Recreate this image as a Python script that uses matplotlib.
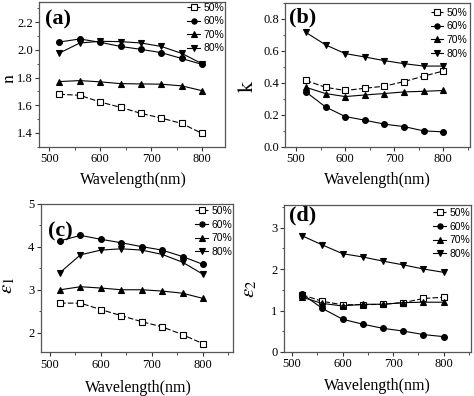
import matplotlib
matplotlib.use("Agg")
import matplotlib.pyplot as plt
from matplotlib.ticker import AutoMinorLocator, MultipleLocator

wavelength = [520, 560, 600, 640, 680, 720, 760, 800]
series_labels = ["50%", "60%", "70%", "80%"]

n_50 = [1.679, 1.672, 1.623, 1.585, 1.541, 1.507, 1.468, 1.396]
n_60 = [2.057, 2.079, 2.055, 2.025, 2.004, 1.980, 1.938, 1.895]
n_70 = [1.771, 1.778, 1.769, 1.756, 1.754, 1.752, 1.740, 1.705]
n_80 = [1.977, 2.050, 2.062, 2.060, 2.050, 2.025, 1.975, 1.900]

k_50 = [0.415, 0.372, 0.352, 0.366, 0.379, 0.408, 0.442, 0.474]
k_60 = [0.343, 0.249, 0.189, 0.166, 0.141, 0.126, 0.099, 0.093]
k_70 = [0.372, 0.333, 0.314, 0.324, 0.333, 0.343, 0.347, 0.352]
k_80 = [0.716, 0.638, 0.583, 0.562, 0.539, 0.520, 0.505, 0.505]

e1_50 = [2.69, 2.69, 2.54, 2.40, 2.26, 2.14, 1.96, 1.75]
e1_60 = [4.135, 4.26, 4.17, 4.09, 4.00, 3.92, 3.77, 3.59]
e1_70 = [3.00, 3.07, 3.04, 3.00, 3.00, 2.97, 2.92, 2.80]
e1_80 = [3.40, 3.81, 3.92, 3.95, 3.92, 3.82, 3.64, 3.36]

e2_50 = [1.38, 1.22, 1.14, 1.14, 1.15, 1.19, 1.29, 1.32]
e2_60 = [1.40, 1.05, 0.79, 0.67, 0.57, 0.505, 0.42, 0.37]
e2_70 = [1.32, 1.17, 1.11, 1.15, 1.15, 1.19, 1.20, 1.20]
e2_80 = [2.80, 2.58, 2.37, 2.29, 2.19, 2.10, 2.00, 1.92]

W, H = 474, 396
fig = plt.figure(figsize=(W / 100, H / 100), dpi=100)
plt.rcParams['mathtext.fontset'] = 'stix'

SERIF = ['Liberation Serif', 'DejaVu Serif']
SANS = ['Liberation Sans', 'DejaVu Sans']

def px_axes(l, r, t, b):
    return fig.add_axes([l / W, (H - b) / H, (r - l) / W, (b - t) / H])

styles = [
    dict(marker='s', mfc='white', ls=(0, (5, 2))),
    dict(marker='o', mfc='black', ls='-'),
    dict(marker='^', mfc='black', ls='-'),
    dict(marker='v', mfc='black', ls='-'),
]

panels = [
    dict(box=(39, 225, 1.5, 146.7), data=[n_50, n_60, n_70, n_80], xlim=(480, 845), ylim=(1.3, 2.35),
         ymaj=0.2, yfmt='%.1f', ylabel=r'$\mathrm{n}$', ylfs=13, ylc=(-0.159, 0.47), tag='(a)', tagpos=(0.03, 0.873),
         xlc=(0.505, -0.23), leg=(1.0, 1.0)),
    dict(box=(285.3, 470.3, 3, 146.7), data=[k_50, k_60, k_70, k_80], xlim=(478, 855), ylim=(0.0, 0.9),
         ymaj=0.2, yfmt='%.1f', ylabel=r'$\mathrm{k}$', ylfs=16, ylc=(-0.20, 0.42), tag='(b)', tagpos=(0.018, 0.9),
         xlc=(0.5, -0.23), leg=(0.99, 0.975)),
    dict(box=(40.7, 233, 203.5, 352.3), data=[e1_50, e1_60, e1_70, e1_80], xlim=(482, 859), ylim=(1.55, 5.0),
         ymaj=1, yfmt='%d', ylabel=r'$\varepsilon_1$', ylfs=15, ylc=(-0.17, 0.45), tag='(c)', tagpos=(0.038, 0.81),
         xlc=(0.506, -0.24), leg=(1.0, 0.99)),
    dict(box=(283.7, 471, 204.7, 352), data=[e2_50, e2_60, e2_70, e2_80], xlim=(483.6, 854), ylim=(0.0, 3.55),
         ymaj=1, yfmt='%d', ylabel=r'$\varepsilon_2$', ylfs=15, ylc=(-0.18, 0.43), tag='(d)', tagpos=(0.027, 0.925),
         xlc=(0.498, -0.233), leg=(1.0, 0.985)),
]

for p in panels:
    ax = px_axes(*p['box'])
    for vals, lab, st in zip(p['data'], series_labels, styles):
        ax.plot(wavelength, vals, color='black', lw=0.8, ls=st['ls'], marker=st['marker'],
                ms=4.2, mfc=st['mfc'], mec='black', mew=0.8, label=lab)
    ax.set_xlim(*p['xlim'])
    ax.set_ylim(*p['ylim'])
    ax.xaxis.set_major_locator(MultipleLocator(100))
    ax.xaxis.set_minor_locator(AutoMinorLocator(2))
    ax.yaxis.set_major_locator(MultipleLocator(p['ymaj']))
    ax.yaxis.set_minor_locator(AutoMinorLocator(2))
    ax.yaxis.set_major_formatter(matplotlib.ticker.FormatStrFormatter(p['yfmt']))
    ax.tick_params(which='major', direction='out', length=3, width=0.8, pad=1.5, labelsize=9, color='#333333')
    ax.tick_params(which='minor', direction='out', length=1.8, width=0.6, color='#333333')
    for lbl in ax.get_xticklabels() + ax.get_yticklabels():
        lbl.set_family(SERIF)
    for s in ax.spines.values():
        s.set_color('#555555')
        s.set_linewidth(0.9)
    ax.set_xlabel('Wavelength(nm)', family=SERIF, fontsize=11.5)
    ax.xaxis.set_label_coords(*p['xlc'])
    ax.xaxis.label.set_va('center')
    ax.set_ylabel(p['ylabel'], family=SERIF, fontsize=p['ylfs'])
    ax.yaxis.set_label_coords(*p['ylc'])
    ax.yaxis.label.set_va('center')
    ax.text(p['tagpos'][0], p['tagpos'][1], p['tag'], transform=ax.transAxes, ha='left', va='center',
            family=SERIF, fontweight='bold', fontsize=16)
    leg = ax.legend(loc='upper right', bbox_to_anchor=p['leg'], frameon=False, prop={'family': SANS, 'size': 7.5},
                    handlelength=1.2, handletextpad=0.3, labelspacing=0.35, borderaxespad=0.0, borderpad=0.1,
                    numpoints=1, markerscale=0.9)

fig.savefig('out.png', dpi=100)
